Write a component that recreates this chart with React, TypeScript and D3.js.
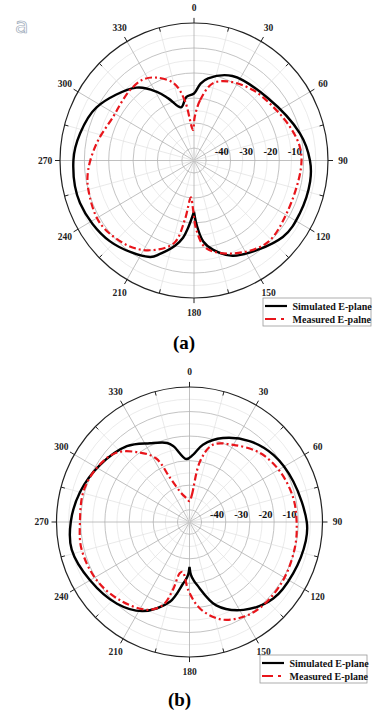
import React from "react";
import * as d3 from "d3";

// Angle ticks (degrees, clockwise from north) and radial dB ticks
const angleTicks = [0, 30, 60, 90, 120, 150, 180, 210, 240, 270, 300, 330];
const radialTicks = [-40, -30, -20, -10];
const majorRings = [-50, -40, -30, -20, -10];
const minorRings = [-45, -35, -25, -15, -5];

// (a) simulated E-plane
const simAAngles = [0, 5, 10, 25, 50, 76, 90, 100, 116, 130, 157, 167.5, 173.3, 177.6, 180, 185.2, 188.3, 192.9, 200.5, 205, 227, 250, 270, 283, 298, 321, 331, 337, 346, 353];
const simADb = [-28.2, -24.1, -21.6, -17.7, -15.8, -10.2, -7.4, -6.6, -6.7, -7.4, -13.6, -18.4, -22.4, -29.3, -34.5, -27.9, -23.8, -20.0, -15.1, -12.4, -7.7, -5.2, -5.5, -7.0, -9.7, -17.5, -23.6, -28.0, -33.1, -29.4];

// (a) measured E-plane
const measAAngles = [1, 6, 14, 25, 41, 57, 71, 83, 94, 119, 138, 157, 172, 178, 181, 185, 189, 194, 207, 219, 237, 255, 265, 280, 298, 308, 317, 327, 335, 345, 351, 358];
const measADb = [-37.5, -30.7, -23.2, -20.2, -17.8, -16.0, -13.4, -11.2, -11.0, -11.5, -10.5, -14.6, -19.6, -27.2, -35.2, -40.2, -31.0, -20.9, -14.7, -11.4, -9.0, -10.1, -11.4, -14.5, -17.5, -17.2, -16.5, -16.4, -18.4, -23.0, -30.6, -42.8];

// (b) simulated E-plane
const simBAngles = [3, 10, 22, 37, 52, 69, 90, 99, 116, 132, 148, 162, 173, 176, 178.4, 180, 181.6, 184, 186, 194, 208, 222, 240, 257, 270, 285, 302, 320, 333, 344, 348, 357];
const simBDb = [-27.6, -23.0, -18.1, -13.75, -10.8, -9.0, -6.5, -6.3, -7.3, -8.4, -12.8, -19.3, -29.1, -31.3, -33.4, -36.7, -33.4, -31.3, -29.8, -21.5, -13.9, -10.2, -7.5, -5.0, -5.9, -8.1, -11.3, -14.7, -19.0, -21.5, -23.5, -29.3];

// (b) measured E-plane
const measBAngles = [0, 5, 10, 17, 30, 46, 61, 77, 90, 103, 121, 138, 150, 162, 173, 181, 188, 191, 194, 198, 206, 222, 238, 256, 270, 286, 300, 313, 324, 332, 336, 344, 352];
const measBDb = [-46.5, -44.0, -30.0, -22.1, -18.7, -14.5, -12.3, -11.0, -10.7, -10.2, -9.6, -9.4, -10.4, -13.3, -19.5, -27.2, -34.5, -33.7, -26.5, -19.4, -15.2, -12.1, -9.9, -9.0, -9.7, -9.4, -10.8, -13.6, -20.0, -25.7, -35.4, -42.8, -45.1];

const RED = "#e8151b";
const SERIF = "'Liberation Serif', 'DejaVu Serif', serif";

type Series = { angles: number[]; db: number[] };

interface PolarProps {
  cx: number;
  cy: number;
  rx: number;
  ry: number;
  sim: Series;
  meas: Series;
  legendX: number;
  legendY: number;
  legendW: number;
  measName: string;
  caption: string;
  captionY: number;
  labelDy: number;
}

// Reorders a closed pattern so it begins and ends at the given angle,
// letting an open spline form a sharp cusp there.
function fromCusp(s: Series, cusp: number): [number, number][] {
  const pts = s.angles.map((a, i) => [a, s.db[i]] as [number, number]);
  const k = pts.findIndex((d) => d[0] === cusp);
  const rot = pts.slice(k).concat(pts.slice(0, k));
  rot.push(rot[0]);
  return rot;
}

function PolarPlot(p: PolarProps) {
  const r = d3.scaleLinear().domain([-55, 0]).range([0, 1]);
  const toRad = (deg: number) => (deg * Math.PI) / 180;
  const px = (deg: number, v: number) => p.cx + p.rx * v * Math.sin(toRad(deg));
  const py = (deg: number, v: number) => p.cy - p.ry * v * Math.cos(toRad(deg));

  const closedLine = d3
    .line<[number, number]>()
    .x((d) => px(d[0], r(d[1])))
    .y((d) => py(d[0], r(d[1])))
    .curve(d3.curveCatmullRomClosed.alpha(0.5));

  const openLine = d3
    .line<[number, number]>()
    .x((d) => px(d[0], r(d[1])))
    .y((d) => py(d[0], r(d[1])))
    .curve(d3.curveCatmullRom.alpha(0.5));

  const simPts = fromCusp(p.sim, 180);
  const measPts = p.meas.angles.map((a, i) => [a, p.meas.db[i]] as [number, number]);

  const spokes = d3.range(0, 360, 15);

  return (
    <g>
      {/* rings */}
      {minorRings.map((v) => (
        <ellipse key={"mi" + v} cx={p.cx} cy={p.cy} rx={p.rx * r(v)} ry={p.ry * r(v)} fill="none" stroke="#e2e2e2" strokeWidth={0.7} />
      ))}
      {majorRings.map((v) => (
        <ellipse key={"ma" + v} cx={p.cx} cy={p.cy} rx={p.rx * r(v)} ry={p.ry * r(v)} fill="none" stroke="#b4b4b4" strokeWidth={0.8} />
      ))}
      {/* spokes */}
      {spokes.map((a) => (
        <line
          key={"s" + a}
          x1={p.cx}
          y1={p.cy}
          x2={px(a, 1)}
          y2={py(a, 1)}
          stroke={a % 30 === 0 ? "#b0b0b0" : "#e0e0e0"}
          strokeWidth={a % 30 === 0 ? 0.8 : 0.7}
        />
      ))}
      {/* outer circle and ticks */}
      <ellipse cx={p.cx} cy={p.cy} rx={p.rx} ry={p.ry} fill="none" stroke="#222" strokeWidth={1.2} />
      {spokes.map((a) => {
        const major = a % 30 === 0;
        const k0 = major ? 1 : 1 - 4 / p.rx;
        const k1 = major ? 1 + 5 / p.rx : 1;
        return (
          <line key={"t" + a} x1={px(a, k0)} y1={py(a, k0)} x2={px(a, k1)} y2={py(a, k1)} stroke="#222" strokeWidth={1} />
        );
      })}
      {/* angle labels */}
      {angleTicks.map((a) => {
        const k = 1 + 15 / p.rx;
        return (
          <text
            key={"al" + a}
            x={px(a, k)}
            y={py(a, k)}
            textAnchor="middle"
            dominantBaseline="central"
            fontFamily={SERIF}
            fontWeight="bold"
            fontSize={9.5}
            fill="#222"
          >
            {a}
          </text>
        );
      })}
      {/* radial labels */}
      {radialTicks.map((v) => (
        <text
          key={"rl" + v}
          x={p.cx + p.rx * r(v - 3.6)}
          y={p.cy - p.labelDy}
          textAnchor="middle"
          fontFamily={SERIF}
          fontWeight="bold"
          fontSize={10.5}
          fill="#111"
        >
          {v}
        </text>
      ))}
      {/* curves */}
      <path d={openLine(simPts) ?? ""} fill="none" stroke="#000" strokeWidth={2.4} strokeLinejoin="miter" />
      <path d={closedLine(measPts) ?? ""} fill="none" stroke={RED} strokeWidth={2.2} strokeDasharray="7 3 2 3" />
      {/* legend */}
      <rect x={p.legendX} y={p.legendY} width={p.legendW} height={28} fill="#fff" stroke="#999" strokeWidth={0.8} />
      <line x1={p.legendX + 2} x2={p.legendX + 24} y1={p.legendY + 8} y2={p.legendY + 8} stroke="#000" strokeWidth={2.2} />
      <line x1={p.legendX + 2} x2={p.legendX + 26} y1={p.legendY + 21} y2={p.legendY + 21} stroke={RED} strokeWidth={2.2} strokeDasharray="11 5 3 20" />
      <text x={p.legendX + 29.5} y={p.legendY + 11.5} fontFamily={SERIF} fontWeight="bold" fontSize={10} fill="#111">
        Simulated E-plane
      </text>
      <text x={p.legendX + 29.5} y={p.legendY + 24.5} fontFamily={SERIF} fontWeight="bold" fontSize={10} fill="#111">
        {p.measName}
      </text>
      {/* caption */}
      <text x={p.cx - 10} y={p.captionY} textAnchor="middle" fontFamily={SERIF} fontWeight="bold" fontSize={19} fill="#000">
        {p.caption}
      </text>
    </g>
  );
}

export default function App() {
  return (
    <svg
      width={374}
      height={713}
      style={{ position: "absolute", left: 0, top: 0, background: "#fff" }}
    >
      <rect width={374} height={713} fill="#fff" />
      <text x={15} y={33} fontFamily="'DejaVu Sans', sans-serif" fontSize={22} fill="none" stroke="#9aa8b8" strokeWidth={0.7}>
        a
      </text>
      <PolarPlot
        cx={194}
        cy={160.5}
        rx={134}
        ry={137.5}
        sim={{ angles: simAAngles, db: simADb }}
        meas={{ angles: measAAngles, db: measADb }}
        legendX={263}
        legendY={298}
        legendW={108}
        measName="Measured E-palne"
        caption="(a)"
        captionY={349}
        labelDy={5.5}
      />
      <PolarPlot
        cx={189.5}
        cy={522}
        rx={133}
        ry={135}
        sim={{ angles: simBAngles, db: simBDb }}
        meas={{ angles: measBAngles, db: measBDb }}
        legendX={260}
        legendY={655}
        legendW={107}
        measName="Measured E-plane"
        caption="(b)"
        captionY={706}
        labelDy={4}
      />
    </svg>
  );
}
